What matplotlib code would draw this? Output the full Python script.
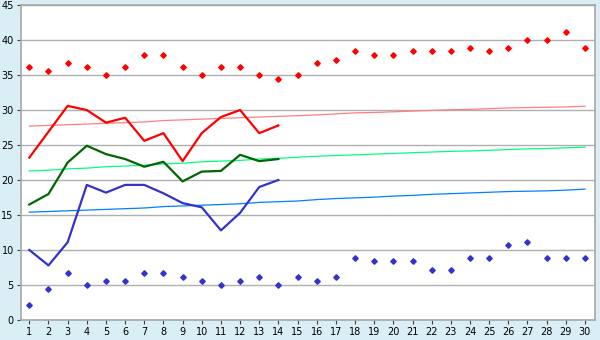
import matplotlib
matplotlib.use("Agg")
import matplotlib.pyplot as plt

# 날짜 (1..30)
days = list(range(1, 31))

# 일별 관측 최고/최저 (점)
obs_high = [36.1, 35.6, 36.7, 36.1, 35.0, 36.1, 37.8, 37.8, 36.1, 35.0,
            36.1, 36.1, 35.0, 34.4, 35.0, 36.7, 37.2, 38.4, 37.8, 37.8,
            38.4, 38.4, 38.4, 38.9, 38.4, 38.9, 40.0, 40.0, 41.1, 38.9]
obs_low = [2.2, 4.4, 6.7, 5.0, 5.6, 5.6, 6.7, 6.7, 6.1, 5.6,
           5.0, 5.6, 6.1, 5.0, 6.1, 5.6, 6.1, 8.9, 8.4, 8.4,
           8.4, 7.2, 7.2, 8.9, 8.9, 10.7, 11.1, 8.9, 8.9, 8.9]

# 1~14일 실측 (선)
line_days = list(range(1, 15))
line_high = [23.2, 26.9, 30.6, 30.0, 28.2, 28.9, 25.6, 26.7, 22.7, 26.7,
             29.0, 30.0, 26.7, 27.8]
line_mean = [16.5, 18.0, 22.5, 24.9, 23.7, 23.0, 21.9, 22.6, 19.8, 21.2,
             21.3, 23.6, 22.7, 23.0]
line_low = [10.0, 7.8, 11.1, 19.3, 18.2, 19.3, 19.3, 18.1, 16.7, 16.1,
            12.8, 15.3, 19.0, 20.0]

# 평년값 (얇은 선)
norm_high = [27.7, 27.8, 27.9, 28.0, 28.1, 28.2, 28.3, 28.5, 28.6, 28.7,
             28.8, 28.9, 29.0, 29.1, 29.2, 29.3, 29.45, 29.6, 29.65, 29.75,
             29.85, 29.95, 30.05, 30.1, 30.2, 30.3, 30.35, 30.4, 30.45, 30.55]
norm_mean = [21.3, 21.4, 21.6, 21.7, 21.9, 22.0, 22.1, 22.3, 22.4, 22.6,
             22.7, 22.8, 23.0, 23.1, 23.25, 23.4, 23.5, 23.6, 23.7, 23.8,
             23.9, 24.0, 24.1, 24.15, 24.25, 24.35, 24.45, 24.5, 24.6, 24.7]
norm_low = [15.4, 15.5, 15.6, 15.7, 15.8, 15.9, 16.0, 16.2, 16.3, 16.4,
            16.5, 16.6, 16.8, 16.9, 17.0, 17.2, 17.35, 17.45, 17.55, 17.7,
            17.8, 17.95, 18.05, 18.15, 18.25, 18.35, 18.4, 18.45, 18.55, 18.7]

fig = plt.figure(figsize=(6, 3.4), dpi=100, facecolor='#d9eef5')
ax = fig.add_axes([0.0345, 0.059, 0.957, 0.926])
ax.set_facecolor('white')

# 평년선
ax.plot(days, norm_high, color='#ff8080', lw=0.9, zorder=2)
ax.plot(days, norm_mean, color='#00ff80', lw=0.9, zorder=2)
ax.plot(days, norm_low, color='#0080ff', lw=0.9, zorder=2)

# 실측선
ax.plot(line_days, line_high, color='#ff0000', lw=1.6, zorder=3)
ax.plot(line_days, line_mean, color='#006600', lw=1.6, zorder=3)
ax.plot(line_days, line_low, color='#3333cc', lw=1.6, zorder=3)

# 점
ax.plot(days, obs_high, 'D', color='#ff0000', ms=2.8, zorder=4)
ax.plot(days, obs_low, 'D', color='#3333cc', ms=2.8, zorder=4)

ax.set_xlim(0.55, 30.52)
ax.set_ylim(0, 45)
ax.set_xticks(days)
ax.set_yticks(range(0, 46, 5))
ax.yaxis.grid(True, color='#b0b0b0', lw=1)
ax.set_axisbelow(True)
for s in ax.spines.values():
    s.set_color('#a8a8a8')
    s.set_linewidth(1.2)
ax.tick_params(labelsize=7, length=3, width=0.8, color='#404040', pad=2)

fig.savefig('out.png', dpi=100, facecolor=fig.get_facecolor())
